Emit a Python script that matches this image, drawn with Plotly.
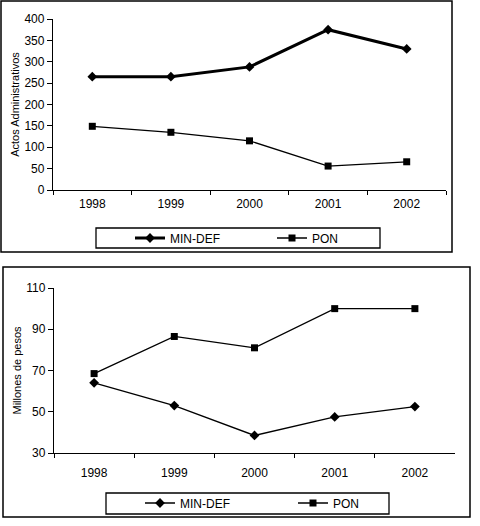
import plotly.graph_objects as go

# años y series
years = ["1998", "1999", "2000", "2001", "2002"]
actos_min_def = [265, 265, 288, 375, 330]
actos_pon = [149, 135, 115, 56, 66]
pesos_min_def = [64, 53, 38.5, 47.5, 52.5]
pesos_pon = [68.5, 86.5, 81, 100, 100]

W, H = 480, 526
FONT = "Liberation Sans Narrow, Liberation Sans, Arial, sans-serif"


def px(x):
    return x / W


def py(y):
    return 1 - y / H


fig = go.Figure()

fig.add_trace(go.Scatter(
    x=years, y=actos_min_def, name="MIN-DEF", mode="lines+markers",
    line=dict(color="black", width=3),
    marker=dict(symbol="diamond", size=7.5, color="black"),
    xaxis="x", yaxis="y", legend="legend"
))
fig.add_trace(go.Scatter(
    x=years, y=actos_pon, name="PON", mode="lines+markers",
    line=dict(color="black", width=1.3),
    marker=dict(symbol="square", size=7, color="black"),
    xaxis="x", yaxis="y", legend="legend"
))
fig.add_trace(go.Scatter(
    x=years, y=pesos_min_def, name="MIN-DEF", mode="lines+markers",
    line=dict(color="black", width=1.3),
    marker=dict(symbol="diamond", size=7.5, color="black"),
    xaxis="x2", yaxis="y2", legend="legend2"
))
fig.add_trace(go.Scatter(
    x=years, y=pesos_pon, name="PON", mode="lines+markers",
    line=dict(color="black", width=1.3),
    marker=dict(symbol="square", size=7, color="black"),
    xaxis="x2", yaxis="y2", legend="legend2"
))

xcommon = dict(
    type="category", range=[-0.5, 4.5], showline=True, linecolor="black",
    linewidth=1.3, ticks="outside", tickson="boundaries", ticklen=4,
    tickcolor="black", showgrid=False, zeroline=False, automargin=False,
    tickfont=dict(size=12, color="black"), fixedrange=True
)
ycommon = dict(
    showline=True, linecolor="black", linewidth=1.3, ticks="outside",
    ticklen=5, tickcolor="black", showgrid=False, zeroline=False,
    automargin=False, ticklabelstandoff=0,
    tickfont=dict(size=12, color="black"), fixedrange=True
)

fig.update_layout(
    template="none",
    width=W, height=H,
    margin=dict(l=0, r=0, t=0, b=0, autoexpand=False),
    paper_bgcolor="white", plot_bgcolor="white",
    font=dict(family=FONT, size=12, color="black"),
    xaxis=dict(xcommon, domain=[px(53), px(446)], anchor="y",
               ticklabelstandoff=2),
    yaxis=dict(ycommon, domain=[py(190), py(19)], anchor="x",
               range=[0, 400], tickvals=list(range(0, 401, 50)),
               title=dict(text="Actos Administrativos", standoff=2,
                          font=dict(size=11))),
    xaxis2=dict(xcommon, domain=[px(54), px(455)], anchor="y2",
                ticklabelstandoff=8),
    yaxis2=dict(ycommon, domain=[py(453), py(288)], anchor="x2",
                range=[30, 110], tickvals=[30, 50, 70, 90, 110],
                title=dict(text="Millones de pesos", standoff=2,
                           font=dict(size=11))),
    legend=dict(orientation="h", x=px(130), y=py(238), xanchor="left",
                yanchor="middle", entrywidth=97, bgcolor="rgba(0,0,0,0)",
                font=dict(size=12)),
    legend2=dict(orientation="h", x=px(140), y=py(503), xanchor="left",
                 yanchor="middle", entrywidth=108, bgcolor="rgba(0,0,0,0)",
                 font=dict(size=12)),
    showlegend=True,
    shapes=[
        # marcos exteriores
        dict(type="rect", xref="paper", yref="paper", x0=px(1), x1=px(452),
             y0=py(252), y1=py(1), line=dict(color="black", width=1.5)),
        dict(type="rect", xref="paper", yref="paper", x0=px(3), x1=px(470),
             y0=py(517), y1=py(267), line=dict(color="black", width=1.5)),
        # cajas de leyenda
        dict(type="rect", xref="paper", yref="paper", x0=px(96), x1=px(380),
             y0=py(248), y1=py(228), line=dict(color="black", width=1.3)),
        dict(type="rect", xref="paper", yref="paper", x0=px(106), x1=px(389),
             y0=py(514), y1=py(493), line=dict(color="black", width=1.3)),
    ],
)

fig.write_html("out.html", config={"displayModeBar": False},
               post_script="document.body.style.margin = '0';")
